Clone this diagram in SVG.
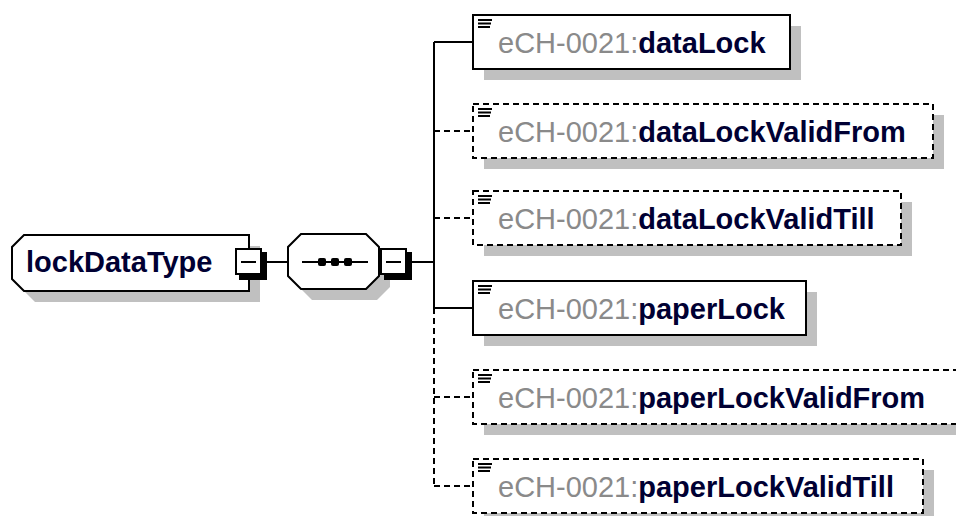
<svg xmlns="http://www.w3.org/2000/svg" width="956" height="516" viewBox="0 0 956 516">
<style>
.sh{fill:#c0c0c0;stroke:none}
.bx{fill:#fff;stroke:#000;stroke-width:2}
.dash{stroke-dasharray:6,4}
.ln{fill:none;stroke:#000;stroke-width:2}
.t{font-family:"Liberation Sans",Arial,sans-serif;font-size:29px}
.pre{fill:#8a8a8a}
.nm{fill:#000033;font-weight:bold}
.ic{stroke:#000;stroke-width:2}
.mb{fill:#fff;stroke:#000;stroke-width:2}
.ms{fill:#000}
</style>
<defs>
<g id="icon"><path class="ic" d="M0,0h14M0,3.5h13M0,7h12"/></g>
<g id="minus">
<rect class="ms" x="4" y="4" width="28" height="28"/>
<rect class="mb" x="1" y="1" width="25" height="25"/>
<path d="M6,14H21" stroke="#000" stroke-width="2"/>
</g>
</defs>
<g id="connectors">
<path class="ln" d="M267,262H288"/>
<path class="ln" d="M412,262H434"/>
<path class="ln" d="M434,42V308"/>
<path class="ln dash" d="M434,308V486"/>
<path class="ln" d="M434,42H473"/>
<path class="ln dash" d="M434,131H473"/>
<path class="ln dash" d="M434,218H473"/>
<path class="ln" d="M434,308H473"/>
<path class="ln dash" d="M434,397H473"/>
<path class="ln dash" d="M434,486H473"/>
</g>
<g id="lockDataType">
<polygon class="sh" points="35,246 260,246 260,302 35,302 23,290 23,258"/>
<polygon class="bx" points="24,235 249,235 249,291 24,291 12,279 12,247"/>
<text class="t nm" x="26" y="272">lockDataType</text>
<use href="#minus" x="235" y="248"/>
</g>
<g id="sequence">
<polygon class="sh" points="312,245 377,245 390,258 390,287 377,300 312,300 299,287 299,258"/>
<polygon class="bx" points="301,234 366,234 379,247 379,276 366,289 301,289 288,276 288,247"/>
<path d="M302,262H368" stroke="#000" stroke-width="2"/>
<rect x="318" y="258" width="8" height="8" rx="2" fill="#000"/>
<rect x="331" y="258" width="8" height="8" rx="2" fill="#000"/>
<rect x="344" y="258" width="8" height="8" rx="2" fill="#000"/>
<use href="#minus" x="380" y="248"/>
</g>
<g id="dataLock">
<rect class="sh" x="484" y="26" width="317" height="54"/>
<rect class="bx" x="473" y="15" width="317" height="54"/>
<use href="#icon" x="478" y="20"/>
<text class="t" x="498" y="53"><tspan class="pre">eCH-0021:</tspan><tspan class="nm">dataLock</tspan></text>
</g>
<g id="dataLockValidFrom">
<rect class="sh" x="484" y="115" width="460" height="54"/>
<rect class="bx dash" x="473" y="104" width="460" height="54"/>
<use href="#icon" x="478" y="109"/>
<text class="t" x="498" y="142"><tspan class="pre">eCH-0021:</tspan><tspan class="nm">dataLockValidFrom</tspan></text>
</g>
<g id="dataLockValidTill">
<rect class="sh" x="484" y="202" width="428" height="54"/>
<rect class="bx dash" x="473" y="191" width="428" height="54"/>
<use href="#icon" x="478" y="196"/>
<text class="t" x="498" y="229"><tspan class="pre">eCH-0021:</tspan><tspan class="nm">dataLockValidTill</tspan></text>
</g>
<g id="paperLock">
<rect class="sh" x="484" y="292" width="333" height="54"/>
<rect class="bx" x="473" y="281" width="333" height="54"/>
<use href="#icon" x="478" y="286"/>
<text class="t" x="498" y="319"><tspan class="pre">eCH-0021:</tspan><tspan class="nm">paperLock</tspan></text>
</g>
<g id="paperLockValidFrom">
<rect class="sh" x="484" y="381" width="490" height="54"/>
<rect class="bx dash" x="473" y="370" width="490" height="54"/>
<use href="#icon" x="478" y="375"/>
<text class="t" x="498" y="408"><tspan class="pre">eCH-0021:</tspan><tspan class="nm">paperLockValidFrom</tspan></text>
</g>
<g id="paperLockValidTill">
<rect class="sh" x="484" y="470" width="450" height="54"/>
<rect class="bx dash" x="473" y="459" width="450" height="54"/>
<use href="#icon" x="478" y="464"/>
<text class="t" x="498" y="497"><tspan class="pre">eCH-0021:</tspan><tspan class="nm">paperLockValidTill</tspan></text>
</g>
</svg>
